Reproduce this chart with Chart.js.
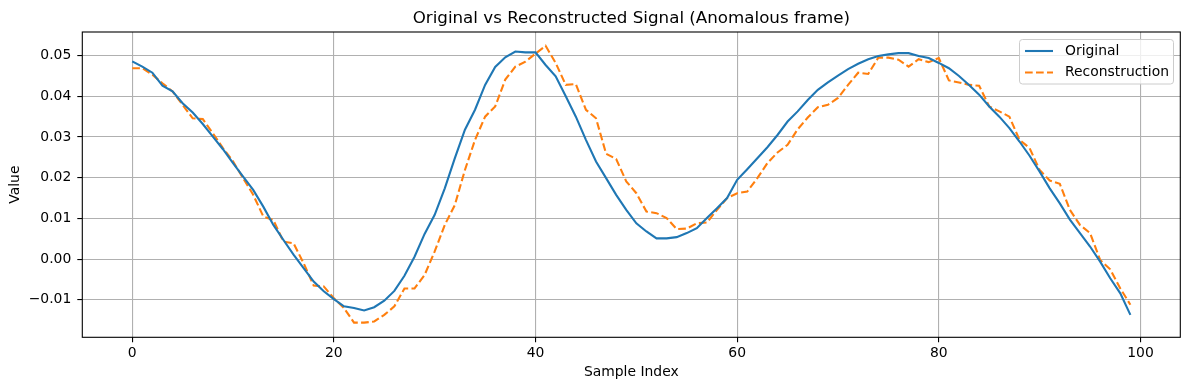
<!DOCTYPE html>
<html>
<head>
<meta charset="utf-8">
<script src="https://cdn.jsdelivr.net/npm/chart.js@4"></script>
<style>
  body { margin: 0; background: #fff; }
  canvas { display: block; }
</style>
</head>
<body>
<canvas id="signalChart" width="1189" height="390"></canvas>
<script>
const chartTitle = "Original vs Reconstructed Signal (Anomalous frame)";
const seriesNames = ["Original", "Reconstruction"];
const xTicks = [0, 20, 40, 60, 80, 100];
const yTicks = [-0.01, 0, 0.01, 0.02, 0.03, 0.04, 0.05];

const original = [
  0.0486, 0.0473, 0.0458, 0.0426, 0.0412, 0.0383, 0.0360, 0.0332, 0.0301, 0.0270,
  0.0236, 0.0203, 0.0170, 0.0129, 0.0084, 0.0047, 0.0011, -0.0022, -0.0055, -0.0079,
  -0.0098, -0.0116, -0.0120, -0.0126, -0.0118, -0.0102, -0.0078, -0.0041, 0.0006, 0.0062,
  0.0109, 0.0174, 0.0248, 0.0318, 0.0367, 0.0428, 0.0472, 0.0496, 0.0510, 0.0508,
  0.0508, 0.0477, 0.0449, 0.0400, 0.0350, 0.0293, 0.0240, 0.0199, 0.0158, 0.0121,
  0.0088, 0.0068, 0.0051, 0.0051, 0.0054, 0.0064, 0.0076, 0.0101, 0.0125, 0.0150,
  0.0195, 0.0221, 0.0248, 0.0275, 0.0305, 0.0338, 0.0363, 0.0391, 0.0416, 0.0434,
  0.0451, 0.0467, 0.0480, 0.0491, 0.0499, 0.0503, 0.0506, 0.0506, 0.0499, 0.0494,
  0.0482, 0.0469, 0.0450, 0.0428, 0.0404, 0.0375, 0.0350, 0.0322, 0.0289, 0.0254,
  0.0215, 0.0174, 0.0137, 0.0097, 0.0064, 0.0031, -0.0006, -0.0047, -0.0084, -0.0137
];

const reconstruction = [
  0.0469, 0.0469, 0.0453, 0.0432, 0.0412, 0.0379, 0.0346, 0.0344, 0.0309, 0.0273,
  0.0240, 0.0199, 0.0158, 0.0105, 0.0096, 0.0043, 0.0039, -0.0010, -0.0065, -0.0067,
  -0.0096, -0.0120, -0.0156, -0.0156, -0.0153, -0.0137, -0.0116, -0.0072, -0.0072, -0.0039,
  0.0019, 0.0084, 0.0133, 0.0219, 0.0293, 0.0350, 0.0375, 0.0441, 0.0473, 0.0485,
  0.0505, 0.0524, 0.0482, 0.0428, 0.0430, 0.0367, 0.0346, 0.0259, 0.0246, 0.0191,
  0.0162, 0.0117, 0.0113, 0.0101, 0.0074, 0.0075, 0.0088, 0.0090, 0.0121, 0.0150,
  0.0162, 0.0166, 0.0199, 0.0236, 0.0262, 0.0281, 0.0319, 0.0348, 0.0373, 0.0379,
  0.0396, 0.0428, 0.0458, 0.0455, 0.0495, 0.0495, 0.0490, 0.0473, 0.0491, 0.0484,
  0.0494, 0.0439, 0.0434, 0.0428, 0.0426, 0.0375, 0.0363, 0.0350, 0.0293, 0.0273,
  0.0219, 0.0193, 0.0185, 0.0121, 0.0084, 0.0064, -0.0002, -0.0025, -0.0072, -0.0112
];

const FONT = "'DejaVu Sans', sans-serif";
const BLUE = "#1f77b4";
const ORANGE = "#ff7f0e";
const DASH = [7.7, 3.3];

const toPoints = (values) => values.map((y, i) => ({ x: i, y }));

Chart.defaults.color = "#000";
Chart.defaults.font.family = FONT;
Chart.defaults.font.size = 13.9;

// title over the plot area + black frame + matplotlib style legend
const decorations = {
  id: "decorations",
  afterDraw(chart) {
    const { ctx, chartArea } = chart;
    const { left, right, top, bottom } = chartArea;
    ctx.save();

    ctx.strokeStyle = "#000";
    ctx.lineWidth = 1.1;
    ctx.strokeRect(left, top, right - left, bottom - top);

    ctx.fillStyle = "#000";
    ctx.font = "16.7px " + FONT;
    ctx.textAlign = "center";
    ctx.textBaseline = "middle";
    ctx.fillText(chartTitle, (left + right) / 2, 18.5);

    // legend box
    const bx = 1019.5, by = 39.5, bw = 154, bh = 44.5, r = 3;
    ctx.beginPath();
    ctx.moveTo(bx + r, by);
    ctx.arcTo(bx + bw, by, bx + bw, by + bh, r);
    ctx.arcTo(bx + bw, by + bh, bx, by + bh, r);
    ctx.arcTo(bx, by + bh, bx, by, r);
    ctx.arcTo(bx, by, bx + bw, by, r);
    ctx.closePath();
    ctx.fillStyle = "rgba(255,255,255,0.8)";
    ctx.fill();
    ctx.strokeStyle = "#cccccc";
    ctx.lineWidth = 1;
    ctx.stroke();

    const rows = [
      { name: seriesNames[0], color: BLUE, dash: [], y: 51 },
      { name: seriesNames[1], color: ORANGE, dash: DASH, y: 72.5 },
    ];
    ctx.font = "13.9px " + FONT;
    ctx.textAlign = "left";
    rows.forEach((row) => {
      ctx.beginPath();
      ctx.setLineDash(row.dash);
      ctx.strokeStyle = row.color;
      ctx.lineWidth = 2.1;
      ctx.moveTo(1025, row.y);
      ctx.lineTo(1053, row.y);
      ctx.stroke();
      ctx.setLineDash([]);
      ctx.fillStyle = "#000";
      ctx.fillText(row.name, 1065, row.y);
    });

    ctx.restore();
  },
};

new Chart(document.getElementById("signalChart"), {
  type: "line",
  data: {
    datasets: [
      {
        label: seriesNames[0],
        data: toPoints(original),
        borderColor: BLUE,
        borderWidth: 2.1,
        pointRadius: 0,
        tension: 0,
        fill: false,
      },
      {
        label: seriesNames[1],
        data: toPoints(reconstruction),
        borderColor: ORANGE,
        borderWidth: 2.1,
        borderDash: DASH,
        pointRadius: 0,
        tension: 0,
        fill: false,
      },
    ],
  },
  options: {
    responsive: false,
    animation: false,
    devicePixelRatio: 1,
    layout: { padding: { top: 32, right: 8.7, left: 0, bottom: 0 } },
    plugins: {
      legend: { display: false },
      title: { display: false },
      tooltip: { enabled: false },
    },
    scales: {
      x: {
        type: "linear",
        min: -4.95,
        max: 103.95,
        afterBuildTicks: (scale) => {
          scale.ticks = xTicks.map((value) => ({ value }));
        },
        afterFit: (scale) => {
          scale.height = 52.7;
        },
        ticks: { padding: 3, maxRotation: 0, callback: (v) => String(v) },
        grid: { color: "#b0b0b0", lineWidth: 1.1, tickLength: 5, tickColor: "#000" },
        border: { display: false },
        title: { display: true, text: "Sample Index", padding: { top: 0, bottom: 9.5 } },
      },
      y: {
        type: "linear",
        min: -0.0192,
        max: 0.0558,
        afterBuildTicks: (scale) => {
          scale.ticks = yTicks.map((value) => ({ value }));
        },
        afterFit: (scale) => {
          scale.width = 82.3;
        },
        ticks: {
          padding: 6,
          callback: (v) => (v < 0 ? "\u2212" + Math.abs(v).toFixed(2) : v.toFixed(2)),
        },
        grid: { color: "#b0b0b0", lineWidth: 1.1, tickLength: 5, tickColor: "#000" },
        border: { display: false },
        title: { display: true, text: "Value", padding: { top: 7, bottom: 0 } },
      },
    },
  },
  plugins: [decorations],
});
</script>
</body>
</html>
